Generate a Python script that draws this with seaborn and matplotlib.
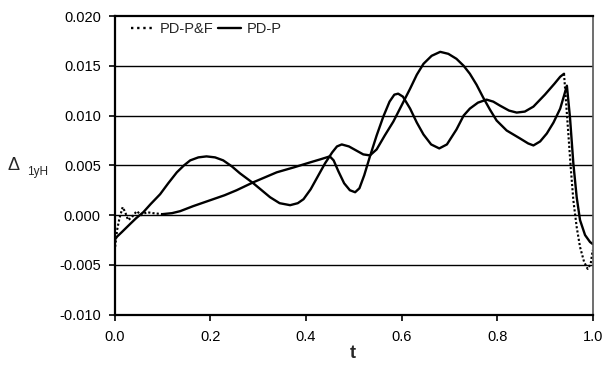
import numpy as np
import pandas as pd
import matplotlib
matplotlib.use("Agg")
import matplotlib.pyplot as plt
import seaborn as sns
from matplotlib.lines import Line2D

# ---- data ----
pdp_t = [0.000, 0.004, 0.015, 0.032, 0.045, 0.060, 0.075, 0.095, 0.112, 0.130,
         0.145, 0.158, 0.175, 0.192, 0.210, 0.227, 0.245, 0.262, 0.290, 0.310,
         0.325, 0.345, 0.367, 0.383, 0.395, 0.410, 0.425, 0.440, 0.455, 0.465,
         0.475, 0.490, 0.505, 0.520, 0.534, 0.548, 0.565, 0.583, 0.600, 0.618,
         0.632, 0.646, 0.663, 0.681, 0.698, 0.715, 0.730, 0.743, 0.757, 0.771,
         0.785, 0.799, 0.820, 0.848, 0.865, 0.876, 0.890, 0.904, 0.918, 0.932,
         0.940, 0.946, 0.9525, 0.9595, 0.9665, 0.9735, 0.984, 0.9944, 1.000]
pdp_v = [-0.0025, -0.0022, -0.0017, -0.0009, -0.0003, 0.0003, 0.0011, 0.0021, 0.0032, 0.0043,
         0.0050, 0.0055, 0.0058, 0.0059, 0.0058, 0.0055, 0.0049, 0.0042, 0.0032, 0.0024,
         0.0018, 0.0012, 0.0010, 0.0012, 0.0016, 0.0026, 0.0039, 0.0052, 0.0063, 0.0069,
         0.0071, 0.0069, 0.0065, 0.0061, 0.0060, 0.0066, 0.0080, 0.0094, 0.0110, 0.0127,
         0.0141, 0.0152, 0.0160, 0.0164, 0.0162, 0.0157, 0.0150, 0.0142, 0.0131, 0.0118,
         0.0106, 0.0095, 0.0085, 0.0077, 0.0072, 0.0070, 0.0074, 0.0082, 0.0093, 0.0107,
         0.0120, 0.0130, 0.0098, 0.0052, 0.0018, -0.0005, -0.0020, -0.0027, -0.0029]

pdpf_t = [0.000, 0.005, 0.010, 0.0167, 0.022, 0.028, 0.036, 0.046, 0.056, 0.067,
          0.080, 0.100, 0.120, 0.137, 0.164, 0.200, 0.230, 0.255, 0.290, 0.339,
          0.375, 0.409, 0.430, 0.450, 0.458, 0.468, 0.480, 0.492, 0.503, 0.512,
          0.522, 0.534, 0.548, 0.562, 0.575, 0.585, 0.593, 0.603, 0.618, 0.632,
          0.646, 0.662, 0.679, 0.695, 0.715, 0.730, 0.743, 0.760, 0.778, 0.792,
          0.806, 0.825, 0.841, 0.858, 0.876, 0.900, 0.920, 0.932, 0.940, 0.944,
          0.949, 0.954, 0.9595, 0.9665, 0.9735, 0.982, 0.9895, 0.9958, 1.000]
pdpf_v = [-0.0036, -0.0015, -0.0003, 0.0008, 0.0003, -0.0005, -0.0002, 0.0004, 0.0000, 0.0003,
          0.0002, 0.0001, 0.0002, 0.0004, 0.0009, 0.0015, 0.0020, 0.0025, 0.0033, 0.0043,
          0.0048, 0.0053, 0.0056, 0.0059, 0.0055, 0.0044, 0.0032, 0.0025, 0.0023, 0.0027,
          0.0040, 0.0059, 0.0080, 0.0099, 0.0114, 0.0121, 0.0122, 0.0119, 0.0107, 0.0093,
          0.0081, 0.0071, 0.0067, 0.0071, 0.0086, 0.0100, 0.0107, 0.0113, 0.0116, 0.0114,
          0.0110, 0.0105, 0.0103, 0.0104, 0.0109, 0.0121, 0.0132, 0.0139, 0.0142, 0.0115,
          0.0082, 0.0048, 0.0015, -0.0012, -0.0032, -0.0047, -0.0054, -0.0049, -0.0035]

series_names = ["PD-P&F", "PD-P"]
x_ticks = [0.0, 0.2, 0.4, 0.6, 0.8, 1.0]
y_ticks = [-0.010, -0.005, 0.000, 0.005, 0.010, 0.015, 0.020]

# ---- styling ----
sns.set_theme(style="white")
plt.rcParams["font.family"] = ["Liberation Sans", "DejaVu Sans"]

fig = plt.figure(figsize=(6.04, 3.74), dpi=100)
ax = fig.add_axes([114.7 / 604, 1 - 314.7 / 374, 478 / 604, (314.7 - 16) / 374])

lw = 1.7
dots = (1.0, 1.0)

# PD-P (solid)
sns.lineplot(x=pdp_t, y=pdp_v, ax=ax, color="black", lw=lw, estimator=None, sort=False)

# PD-P&F (dotted style; in the source it reads solid where its points are dense)
df = pd.DataFrame({"t": pdpf_t, "v": pdpf_v})
start = df[df.t <= 0.10]
mid = df[(df.t >= 0.10) & (df.t <= 0.94)]
end = df[df.t >= 0.94]
sns.lineplot(data=start, x="t", y="v", ax=ax, color="black", lw=lw * 0.9,
             estimator=None, sort=False, linestyle=(0, dots))
sns.lineplot(data=mid, x="t", y="v", ax=ax, color="black", lw=lw,
             estimator=None, sort=False)
sns.lineplot(data=end, x="t", y="v", ax=ax, color="black", lw=lw * 0.9,
             estimator=None, sort=False, linestyle=(0, dots))

ax.set_xlim(0, 1)
ax.set_ylim(-0.010, 0.020)
ax.set_xticks(x_ticks)
ax.set_xticklabels([f"{v:.1f}" for v in x_ticks])
ax.set_yticks(y_ticks)
ax.set_yticklabels([f"{v:.3f}" for v in y_ticks])

for y in y_ticks[1:-1]:
    ax.axhline(y, color="black", lw=1.0, zorder=0)

for s in ["left", "bottom", "top"]:
    ax.spines[s].set_color("black")
    ax.spines[s].set_linewidth(1.6)
ax.spines["right"].set_color("#555555")
ax.spines["right"].set_linewidth(1.2)

ax.tick_params(axis="both", which="major", direction="out", length=4, width=1.2,
               color="black", labelsize=10.5, labelcolor="black")
ax.tick_params(axis="y", pad=6, left=True)
ax.tick_params(axis="x", pad=7, bottom=True)

ax.set_xlabel("")
ax.set_ylabel("")
fig.text(353 / 604, 1 - 354 / 374, "t", ha="center", va="center", fontsize=13,
         fontweight="bold")
fig.text(14 / 604, 1 - 166 / 374, "Δ", ha="center", va="center", fontsize=13)
fig.text(27 / 604, 1 - 172.5 / 374, "1yH", ha="left", va="center", fontsize=8.5)

handles = [Line2D([0], [0], color="black", lw=lw, linestyle=(0, (1.0, 1.6))),
           Line2D([0], [0], color="black", lw=lw)]
ax.legend(handles, series_names, loc="upper left", bbox_to_anchor=(0.015, 1.008),
          ncol=2, frameon=False, fontsize=10.5, handlelength=1.6, handletextpad=0.4,
          columnspacing=0.3, borderaxespad=0.2)

fig.savefig("out.png", dpi=100)
